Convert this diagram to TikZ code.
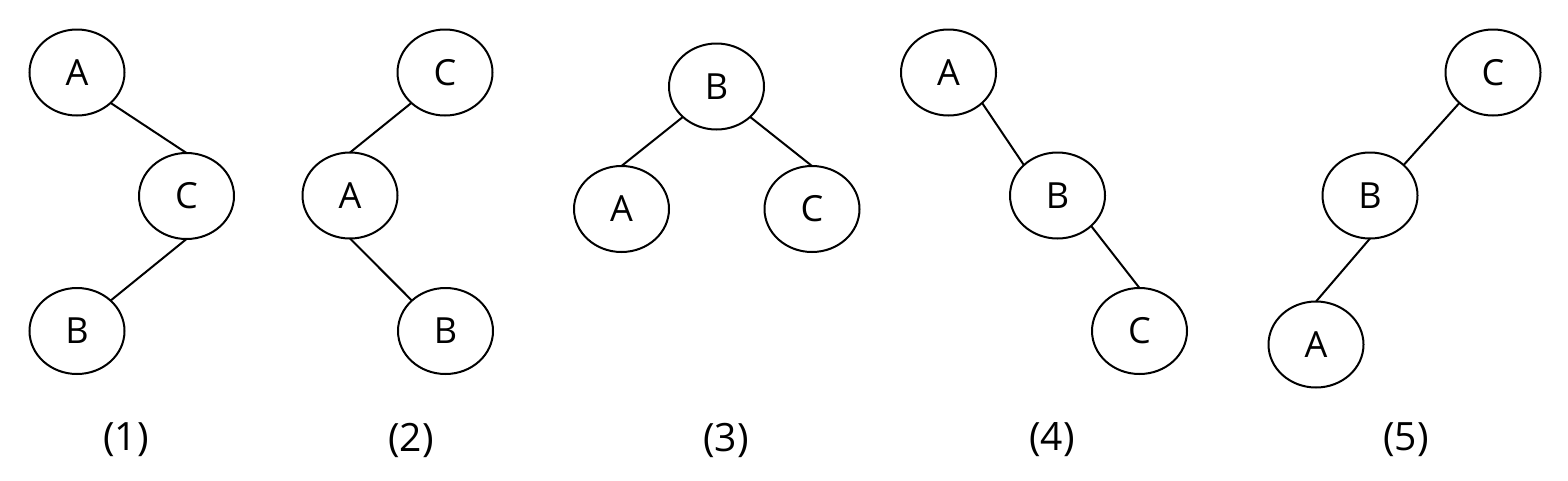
\documentclass[tikz,border=0pt]{standalone}
\usepackage{fontspec}
\setmainfont{Open Sans}
\usetikzlibrary{shapes.geometric}
\begin{document}
\begin{tikzpicture}[x=1pt,y=-1pt,
  tn/.style={ellipse,draw,line width=2pt,minimum width=95pt,minimum height=86pt,inner sep=0pt,outer sep=0pt,font=\fontsize{36}{36}\selectfont},
  edge/.style={line width=2pt},
  caplabel/.style={font=\fontsize{39}{39}\selectfont,inner sep=0pt}]
\useasboundingbox (0,0) rectangle (1568,480);
% tree 1
\node[tn] (a1) at (77,72.5) {A};
\node[tn] (c1) at (186.5,196) {C};
\node[tn] (b1) at (77,331) {B};
\draw[edge] (a1.south east) -- (c1.north);
\draw[edge] (c1.south) -- (b1.north east);
\node[caplabel] (l1) at (126,440) {(1)};
% tree 2
\node[tn] (c2) at (445,72.5) {C};
\node[tn] (a2) at (350,195.5) {A};
\node[tn] (b2) at (445.5,331) {B};
\draw[edge] (c2.south west) -- (a2.north);
\draw[edge] (a2.south) -- (b2.north west);
\node[caplabel] (l2) at (411,440) {(2)};
% tree 3
\node[tn] (b3) at (716.5,86.5) {B};
\node[tn] (a3) at (621.5,209) {A};
\node[tn] (c3) at (812,209) {C};
\draw[edge] (b3.south west) -- (a3.north);
\draw[edge] (b3.south east) -- (c3.north);
\node[caplabel] (l3) at (726,440) {(3)};
% tree 4
\node[tn] (a4) at (948.5,72.5) {A};
\node[tn] (b4) at (1057.5,195.5) {B};
\node[tn] (c4) at (1139.5,331) {C};
\draw[edge] (a4.south east) -- (b4.north west);
\draw[edge] (b4.south east) -- (c4.north);
\node[caplabel] (l4) at (1052,440) {(4)};
% tree 5
\node[tn] (c5) at (1493,72.5) {C};
\node[tn] (b5) at (1370,195.5) {B};
\node[tn] (a5) at (1316,344.5) {A};
\draw[edge] (c5.south west) -- (b5.north east);
\draw[edge] (b5.south) -- (a5.north);
\node[caplabel] (l5) at (1406,440) {(5)};
\end{tikzpicture}
\end{document}
